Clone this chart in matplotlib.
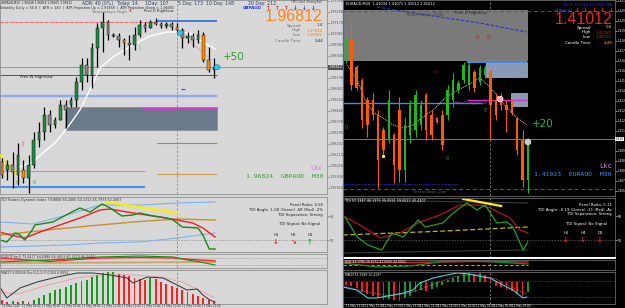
import numpy as np
import matplotlib
matplotlib.use("Agg")
import matplotlib.pyplot as plt
from matplotlib.patches import Rectangle, Ellipse
from matplotlib.transforms import blended_transform_factory

W, H = 625, 308
BIG = ["Liberation Sans Narrow", "Liberation Sans", "DejaVu Sans"]

# ---------------- GBPAUD, M30 (left window) ----------------
gbp_open = [1.96054, 1.95990, 1.96030, 1.95950, 1.95990, 1.95926, 1.96030, 1.96230, 1.96294, 1.96430,
            1.96350, 1.96390, 1.96510, 1.96510, 1.96550, 1.96694, 1.96830, 1.96750, 1.96966, 1.97126,
            1.97174, 1.97070, 1.97062, 1.97030, 1.97006, 1.96990, 1.97070, 1.97150, 1.97126, 1.97174,
            1.97158, 1.97142, 1.97158, 1.97134, 1.97110, 1.97046, 1.97062, 1.97030, 1.97070, 1.96870,
            1.96790]
gbp_close = [1.95950, 1.96030, 1.95974, 1.96110, 1.95926, 1.96030, 1.96230, 1.96294, 1.96430, 1.96350,
             1.96390, 1.96510, 1.96470, 1.96550, 1.96694, 1.96830, 1.96750, 1.96966, 1.97126, 1.97174,
             1.97070, 1.97062, 1.97030, 1.97006, 1.96990, 1.97070, 1.97150, 1.97126, 1.97174, 1.97158,
             1.97142, 1.97158, 1.97134, 1.97110, 1.97046, 1.97062, 1.97030, 1.97070, 1.96870, 1.96790,
             1.96812]
gbp_high = [1.96086, 1.96070, 1.96134, 1.96206, 1.96070, 1.96110, 1.96294, 1.96374, 1.96494, 1.96470,
            1.96414, 1.96550, 1.96550, 1.96574, 1.96734, 1.96886, 1.96886, 1.97006, 1.97166, 1.97254,
            1.97190, 1.97086, 1.97086, 1.97046, 1.97070, 1.97134, 1.97190, 1.97174, 1.97190, 1.97206,
            1.97174, 1.97174, 1.97174, 1.97166, 1.97126, 1.97094, 1.97086, 1.97110, 1.97094, 1.96974,
            1.96886]
gbp_low = [1.95926, 1.95910, 1.95846, 1.95870, 1.95886, 1.95806, 1.96006, 1.96174, 1.96230, 1.96294,
           1.96326, 1.96390, 1.96326, 1.96494, 1.96494, 1.96630, 1.96694, 1.96646, 1.96814, 1.96934,
           1.97030, 1.97054, 1.96974, 1.96910, 1.96870, 1.96950, 1.97054, 1.97094, 1.97126, 1.97150,
           1.97126, 1.97126, 1.97110, 1.97086, 1.96966, 1.97006, 1.96974, 1.97006, 1.96854, 1.96774,
           1.96726]
gbp_orange = [0, 4, 23, 33, 38, 39]

gbp_ma_x = [3.4, 5.8, 7.9, 10.0, 12.3, 14.7, 17.2, 18.5, 20.9, 24.7, 27.9, 31.1, 33.0, 35.5, 37.9, 40.2]
gbp_ma_y = [1.96014, 1.96054, 1.96134, 1.96206, 1.96326, 1.96470, 1.96686, 1.96806, 1.96894, 1.96990,
            1.97062, 1.97094, 1.97094, 1.97086, 1.97014, 1.96958]
gbp_trend_x = [-0.4, 2.8]
gbp_trend_y = [1.96110, 1.95950]
gbp_bid = 1.96812
gbp_yday_high = 1.97174
gbp_prev_w = 1.96750
gbp_blue_mid = 1.96582
gbp_zone = (1.96310, 1.96494)
gbp_prev_d = 1.96486
gbp_gray_lvl = 1.96206
gbp_tan_lvl = 1.95958
gbp_pink_lvl = 1.95982
gbp_blue_low = 1.95854

# TDI panel
gbp_tdi_x = [-0.4, 0.9, 2.5, 3.4, 4.3, 5.7, 6.2, 9.6, 12.8, 14.7, 16.6, 18.9, 20.4, 22.6, 24.7, 26.0,
             28.5, 31.1, 32.3, 34.0, 37.0, 37.9, 39.1, 40.2]
gbp_tdi_green = [50, 48.5, 55.25, 53.75, 50, 57.5, 61.25, 63.5, 70.25, 74, 71, 77, 74, 68, 68.75, 70.25,
                 68, 66.5, 65, 59.75, 59, 53.75, 43.25, 43.25]
gbp_sig_x = [-0.4, 1.5, 4.3, 7.2, 10.9, 14.7, 18.5, 20.4, 23.6, 26.0, 29.8, 33.0, 36.0, 37.9, 40.2]
gbp_tdi_red = [56, 53.75, 51.5, 56, 61.25, 66.5, 72.5, 73.25, 71, 69.5, 67.25, 65, 62.75, 59, 52.25]
gbp_mid_x = [-0.4, 12.3, 24.7, 33.0, 40.2]
gbp_tdi_mid = [53.75, 59, 63.5, 65.75, 65]
gbp_band_x = [-0.4, 5.8, 12.3, 18.5, 26.0, 33.0, 40.2]
gbp_band_up = [63.5, 62, 68.75, 76.25, 76.25, 77.75, 78.5]
gbp_band_dn = [44.75, 45.5, 46.25, 47.75, 48.5, 51.5, 55.25]
gbp_tdi_trend_x = [19.8, 33.0]
gbp_tdi_trend = [78.5, 70.25]

# QQE panel
gbp_qqe_x = [-0.4, 9.0, 18.5, 26.0, 32.3, 35.0, 37.4, 40.2]
gbp_qqe_fast = [6, 8, 11, 12, 11, 8, 6, 3]
gbp_qqe_slow = [10, 6.5, 10, 10.5, 10, 9, 8, 7]
gbp_qqe_band = [8, 8.5, 9.5, 10, 9.5, 8.5, 8, 7.5]
gbp_qqe_base = [5, 5.2, 5.4, 5.6, 5.8, 5.9, 6, 6]

# oscillator panel
gbp_osc = [4, 2, 3, 2, 3, 2, 4, 6, 9, 11, 14, 15, 17, 19, 21, 23, 24, 27, 29, 31, 32, 32, 30, 29, 28,
           26, 25, 24, 26, 25, 22, 20, 18, 16, 14, 12, 10, 8, 6, 4, 2]
gbp_osc_sig_x = [-0.4, 0.9, 3.4, 6.6, 10.4, 14.2, 17.2, 20.4, 23.6, 24.7, 27.4, 30.4, 32.3, 34.9, 36.8,
                 37.9, 39.2, 40.2]
gbp_osc_sig = [17, 6, 16, 22, 27, 31, 31, 29, 26, 21, 27, 26, 21, 14, 15, 9, 4, 2]
gbp_osc_ma_x = [-0.4, 3, 8, 14, 20, 25, 30, 34, 38, 40.2]
gbp_osc_ma = [12, 10, 18, 26, 30, 29, 27, 22, 12, 6]
gbp_times = ["11 May 2020", "11 May 03:00", "11 May 05:00", "11 May 07:00", "11 May 09:00",
             "11 May 11:00", "11 May 13:00", "11 May 15:00", "11 May 17:00", "11 May 19:00",
             "11 May 21:00"]

# ---------------- EURAUD, M30 (right window) ----------------
eur_open = [1.41644, 1.41804, 1.41588, 1.41484, 1.41324, 1.41324, 1.41204, 1.41084, 1.41004, 1.41044,
            1.41244, 1.40764, 1.41044, 1.41084, 1.41124, 1.41364, 1.41204, 1.41180, 1.41204, 1.41204,
            1.41324, 1.41404, 1.41484, 1.41444, 1.41548, 1.41468, 1.41524, 1.41548, 1.41324, 1.41348,
            1.41284, 1.41284, 1.41180, 1.41004, 1.40684]
eur_close = [1.41804, 1.41444, 1.41420, 1.41164, 1.41124, 1.41204, 1.40844, 1.40924, 1.41324, 1.40804,
             1.40764, 1.41124, 1.41284, 1.41364, 1.41284, 1.41084, 1.41044, 1.41148, 1.40964, 1.41404,
             1.41484, 1.41460, 1.41604, 1.41604, 1.41420, 1.41580, 1.41580, 1.41284, 1.41204, 1.41284,
             1.41244, 1.41228, 1.40924, 1.40684, 1.41012]
eur_high = [1.41828, 1.41948, 1.41604, 1.41500, 1.41348, 1.41380, 1.41244, 1.41108, 1.41404, 1.41060,
            1.41348, 1.41188, 1.41324, 1.41404, 1.41324, 1.41380, 1.41244, 1.41188, 1.41244, 1.41444,
            1.41540, 1.41484, 1.41628, 1.41628, 1.41564, 1.41604, 1.41604, 1.41564, 1.41380, 1.41380,
            1.41324, 1.41324, 1.41188, 1.41084, 1.41020]
eur_low = [1.41620, 1.41404, 1.41404, 1.41100, 1.41028, 1.41164, 1.40620, 1.40868, 1.40980, 1.40660,
           1.40668, 1.40668, 1.40980, 1.41028, 1.41084, 1.41004, 1.41004, 1.41140, 1.40924, 1.41164,
           1.41268, 1.41380, 1.41460, 1.41404, 1.41388, 1.41444, 1.41500, 1.41004, 1.41164, 1.41244,
           1.41068, 1.41204, 1.40884, 1.40628, 1.40580]

eur_ma_x = [0.2, 2.1, 3.6, 5.0, 6.9, 8.8, 10.7, 12.5, 14.4, 16.3, 18.5, 20.9, 22.8, 25.0, 26.5, 28.2,
            30.1, 32.0, 33.8]
eur_ma_y = [1.41604, 1.41484, 1.41324, 1.41228, 1.41180, 1.41124, 1.41100, 1.41124, 1.41188, 1.41244,
            1.41340, 1.41404, 1.41444, 1.41500, 1.41444, 1.41364, 1.41260, 1.41180, 1.41124]
eur_ma2_x = [5.8, 15.0, 25.0, 33.8]
eur_ma2_y = [1.42068, 1.42004, 1.41940, 1.41868]
eur_bid = 1.41012
eur_top_dash = 1.42036
eur_zone = (1.41644, 1.42044)
eur_resist = 1.41628
eur_box1 = (1.41508, 1.41628)
eur_box2 = (1.41276, 1.41380)
eur_blue_lvl = 1.41300
eur_prev_d = 1.41324
eur_dot_low = 1.40652
eur_yday_low = 1.40612

eur_tdi_x = [-0.2, 2.1, 4.1, 6.7, 8.6, 10.7, 13.5, 14.8, 18.1, 20.0, 22.6, 24.5, 26.0, 28.2, 30.1,
             31.2, 33.1, 34.0]
eur_tdi_green = [67.25, 52.25, 46.25, 42.5, 55.25, 52.25, 65, 59.75, 62.75, 70.25, 77.75, 72.5, 76.25,
                 62.75, 63.5, 59.75, 42.5, 48.5]
eur_sig_x = [-0.2, 2.6, 6.4, 10.1, 13.8, 17.6, 21.3, 25.0, 26.9, 30.7, 32.5, 34.0]
eur_tdi_red = [67.25, 61.25, 51.5, 55.25, 63.5, 68.75, 76.25, 76.25, 74, 66.5, 57.5, 55.25]
eur_mid_x = [-0.6, 17.0, 34.0]
eur_tdi_mid = [53.75, 56.5, 59.75]
eur_band_up = [80, 79, 77.75]
eur_band_dn = [40.25, 41.5, 42.5]
eur_tdi_trend_x = [21.9, 29.0]
eur_tdi_trend = [80.75, 75.5]

eur_qqe_x = [-0.6, 6, 12, 18, 24, 28, 34]
eur_qqe_fast = [7, 3, 4, 8.5, 9, 8, 6]
eur_qqe_slow = [8, 7.5, 7.5, 8, 8.5, 8.5, 8]
eur_qqe_base = [5, 5, 5, 5, 5, 5, 5]

eur_osc = [-3, -4, -6, -10, -12, -14, -16, -18, -17, -18, -19, -16, -14, -10, -8, -9, -7, -5, -3, 2,
           4, 6, 8, 9, 8, 9, 7, 5, -4, -5, -7, -9, -12, -14, -10]
eur_osc_line_x = [-0.6, 2.0, 4.1, 5.8, 8.8, 10.7, 12.5, 13.8, 16.3, 18.9, 20.7, 23.0, 25.6, 26.9, 29.3,
                  31.2, 33.1, 33.8]
eur_osc_line = [-5, -8, -16, -16, -13, -11, -8, -1, 4, 7, 9, 8, 5, 4, -3, -8, -16, -15]
eur_osc_ma_x = [-0.6, 4, 8, 12, 16, 20, 24, 28, 32, 33.8]
eur_osc_ma = [-4, -10, -14, -11, -3, 5, 8, 3, -8, -12]
eur_times = ["11 May 13:00", "11 May 15:00", "11 May 17:00", "11 May 19:00", "11 May 21:00",
             "11 May 23:00", "12 May 01:00", "12 May 03:00", "12 May 05:00", "12 May 07:00"]

fig = plt.figure(figsize=(W / 100, H / 100), dpi=100)
fig.patch.set_facecolor("#d6d6d6")


def pane(x0, y0, w, h, bg, edge):
    ax = fig.add_axes([x0 / W, 1 - (y0 + h) / H, w / W, h / H])
    ax.set_facecolor(bg)
    ax.set_xticks([])
    ax.set_yticks([])
    for s in ax.spines.values():
        s.set_color(edge)
        s.set_linewidth(0.6)
    return ax


def ptxt(x, y, s, size=3.0, color="black", ha="left", **kw):
    fig.text(x / W, 1 - y / H, s, fontsize=size, color=color, ha=ha, va="center", **kw)


def right_axis(ax, ticks, fmt, color, size=2.4):
    ax.yaxis.tick_right()
    ax.set_yticks(ticks)
    ax.set_yticklabels([fmt % t for t in ticks])
    ax.tick_params(axis="y", labelsize=size, length=1.2, width=0.4, pad=0.6, colors=color)


# black background of the right window
bgr = fig.add_axes([343 / W, 0, 282 / W, 1])
bgr.set_facecolor("black")
bgr.set_xticks([])
bgr.set_yticks([])
fig.add_artist(plt.Line2D([342.5 / W] * 2, [0, 1], color="#3a66d6", lw=0.8))

# ---------------- left window ----------------
gx = np.arange(len(gbp_open))
gxl = (-0.38, 61.32)
LM = pane(0, 0, 327, 194, "#d8d8d8", "#909090")
L1 = pane(0, 197, 327, 55, "#d8d8d8", "#909090")
L2 = pane(0, 254, 327, 14, "#d8d8d8", "#909090")
L3 = pane(0, 270, 327, 34, "#d8d8d8", "#909090")
for ax in (LM, L1, L2, L3):
    ax.set_xlim(*gxl)
    ax.axvline(33, color="#8a8a8a", lw=0.6, ls=(0, (3, 2)), zorder=1)

LM.set_ylim(1.9735 - 0.00008 * 194, 1.9735)
right_axis(LM, [t for t in np.arange(1.95850, 1.97350, 0.00088) if abs(t - gbp_bid) > 0.0005],
           "%.5f", "#555555")

LM.add_patch(Rectangle((11.9, gbp_zone[0]), 40.6 - 11.9, gbp_zone[1] - gbp_zone[0],
                       fc="#6b7a8a", ec="#8a8a8a", lw=0.5, zorder=1))
LM.hlines(gbp_yday_high, gxl[0], 29.2, color="#ff4040", lw=0.6, ls=(0, (3, 1, 1, 1)), zorder=2)
LM.hlines(gbp_yday_high + 0.00008, 29.2, 40.6, color="#3a7de0", lw=1.4, zorder=2)
LM.axhline(gbp_bid, color="#8c8c8c", lw=0.6, zorder=1)
LM.hlines(gbp_prev_w, gxl[0], 40.6, color="#404040", lw=0.6, zorder=2)
LM.hlines(gbp_blue_mid, gxl[0], 40.6, color="#8eaaf0", lw=1.6, zorder=2)
LM.hlines(gbp_prev_d, 26.4, 40.6, color="#d040d0", lw=1.0, zorder=2)
LM.hlines(gbp_gray_lvl, 29.2, 40.6, color="#8c8c8c", lw=0.8, zorder=2)
LM.hlines(gbp_tan_lvl, 29.2, 40.6, color="#c8a050", lw=0.8, zorder=2)
LM.hlines(gbp_pink_lvl, gxl[0], 27, color="#d070d0", lw=0.6, zorder=2)
LM.hlines(gbp_blue_low, gxl[0], 27, color="#4a90e2", lw=1.5, zorder=2)
LM.plot(gbp_trend_x, gbp_trend_y, color="#ffe600", lw=1.2, zorder=4)
LM.plot(gbp_ma_x, gbp_ma_y, color="white", lw=1.0, zorder=4)

g_up = np.array(gbp_close) >= np.array(gbp_open)
g_cols = ["#1f8f3f" if u else "#8a8a8a" for u in g_up]
for i in gbp_orange:
    g_cols[i] = "#ff8c00"
g_bot = np.minimum(gbp_open, gbp_close)
g_hgt = np.maximum(np.abs(np.array(gbp_close) - np.array(gbp_open)), 0.00004)
LM.vlines(gx, gbp_low, gbp_high, color="black", lw=0.9, zorder=5)
LM.bar(gx, g_hgt, bottom=g_bot, width=0.5, color=g_cols, edgecolor="black", lw=0.3, zorder=6)

LM.plot([33.6, 39.6], [1.97086, 1.96870], color="#e08080", lw=0.5, ls=(0, (2, 1)), zorder=4)
for cx, cy in [(33.6, 1.97086), (40.6, gbp_bid)]:
    LM.add_patch(Ellipse((cx, cy), 1.1, 0.00042, fc="#40c0e0", ec="#1080b0", lw=0.4, zorder=7))
LM.hlines(1.96638, 33.7, 34.6, color="#3050d0", lw=0.8, zorder=4)
LM.text(41.7, 1.96894, "+50", fontsize=7.5, color="#2ea02e", va="center", zorder=8)
LM.text(3.4, 1.96734, "Prev W High/Low", fontsize=2.8, color="#202020", va="center")
LM.text(17.0, 1.97250, "Yesterdays High", fontsize=3.2, color="#707070", va="center")
LM.text(23.9, 1.97262, "▲", fontsize=2.6, color="#e04040", va="center")
LM.text(26.8, 1.97262, "Prev D High/Low", fontsize=2.6, color="#202020", va="center")
LM.text(26.4, 1.96470, "Prev D High/Low", fontsize=2.8, color="#d040d0", va="center")
LM.text(26.0, 1.96966, "⇧", fontsize=4, color="#70c070", ha="center", va="center")
LM.text(3.8, 1.96190, "⇧", fontsize=4, color="#e05050", ha="center", va="center")
LM.text(2.8, 1.95894, "0", fontsize=3.5, color="#40a040", ha="center", va="center")
LM.text(6.0, 1.95894, "0", fontsize=3.5, color="#40a040", ha="center", va="center")
bt = blended_transform_factory(LM.transAxes, LM.transData)
LM.text(1.004, gbp_bid, "1.96812", transform=bt, fontsize=2.4, color="white", va="center",
        bbox=dict(fc="#505050", ec="none", pad=0.3), zorder=9, clip_on=False)

# TDI panel
L1.set_ylim(41, 82.25)
right_axis(L1, [50, 68], "%d", "#555555")
L1.axhline(50, color="#8a8a8a", lw=0.5, ls=(0, (2, 2)))
L1.plot(gbp_band_x, gbp_band_up, color="#7fb2ee", lw=0.8)
L1.plot(gbp_band_x, gbp_band_dn, color="#7fb2ee", lw=0.8)
L1.plot(gbp_mid_x, gbp_tdi_mid, color="#c8902a", lw=1.0)
L1.plot(gbp_sig_x, gbp_tdi_red, color="#ee2020", lw=1.0)
L1.plot(gbp_tdi_x, gbp_tdi_green, color="#168a16", lw=1.0)
L1.plot(gbp_tdi_trend_x, gbp_tdi_trend, color="#ffee00", lw=1.6)

# QQE panel
L2.set_ylim(0, 14)
L2.axhline(10, color="#8a8a8a", lw=0.4, ls=(0, (2, 2)))
L2.axhline(3, color="#8a8a8a", lw=0.4, ls=(0, (2, 2)))
L2.plot(gbp_qqe_x, gbp_qqe_base, color="#c8a86a", lw=1.4)
L2.plot(gbp_qqe_x, gbp_qqe_band, color="#f0a0a0", lw=1.4)
L2.plot(gbp_qqe_x, gbp_qqe_slow, color="#e82020", lw=0.8)
L2.plot(gbp_qqe_x, gbp_qqe_fast, color="#168a16", lw=0.8)

# oscillator panel
L3.set_ylim(0, 34)
osc_g = np.array(gbp_osc)
o_cols = ["#1a9a1a" if i > 0 and osc_g[i] >= osc_g[i - 1] else "#ff2020" for i in range(len(osc_g))]
L3.bar(gx, osc_g, width=0.35, color=o_cols)
L3.plot(gbp_osc_ma_x, gbp_osc_ma, color="#f08080", lw=0.6, ls=(0, (2, 1)))
L3.plot(gbp_osc_sig_x, gbp_osc_sig, color="#303030", lw=0.7)

# ---------------- right window ----------------
ex = np.arange(len(eur_open))
exl = (-0.56, 50.28)
RM = pane(343, 0, 272, 196, "black", "#6a6a6a")
R1 = pane(343, 198, 272, 60, "black", "#6a6a6a")
R2 = pane(343, 260, 272, 10, "black", "#6a6a6a")
R3 = pane(343, 272, 272, 32, "black", "#6a6a6a")
R1.spines["bottom"].set_color("white")
R1.spines["bottom"].set_linewidth(1.4)
for ax in (RM, R1, R2, R3):
    ax.set_xlim(*exl)
    ax.axvline(26.9, color="#7a7a7a", lw=0.6, ls=(0, (3, 2)), zorder=1)

RM.set_ylim(1.42124 - 0.00008 * 196, 1.42124)
right_axis(RM, [t for t in np.arange(1.40600, 1.42124, 0.00080) if abs(t - eur_bid) > 0.0004],
           "%.3f", "white", 2.0)

RM.add_patch(Rectangle((exl[0], eur_zone[0]), 33.8 - exl[0], eur_zone[1] - eur_zone[0],
                       fc="#7a7a7a", ec="#9a9a9a", lw=0.5, zorder=1))
RM.axhline(eur_top_dash, color="#5a5a5a", lw=0.7, ls=(0, (4, 3)), zorder=2)
RM.plot(eur_ma2_x, eur_ma2_y, color="#2535c8", lw=0.8, ls=(0, (3, 1.5)), zorder=2)
RM.add_patch(Rectangle((26.2, eur_box1[0]), 33.8 - 26.2, eur_box1[1] - eur_box1[0],
                       fc="#8a9ab4", ec="#b0b8c8", lw=0.5, zorder=1))
RM.add_patch(Rectangle((30.8, eur_box2[0]), 33.8 - 30.8, eur_box2[1] - eur_box2[0],
                       fc="#8a9ab4", ec="#b0b8c8", lw=0.5, zorder=1))
RM.hlines(eur_resist, 22.6, 33.8, color="#3a8ef0", lw=1.4, zorder=2)
RM.hlines(eur_blue_lvl, exl[0], 25.4, color="#3a8ef0", lw=1.0, zorder=2)
RM.hlines(eur_prev_d, 22.6, 33.8, color="#d030d0", lw=1.0, zorder=2)
RM.axhline(eur_bid, color="#8c8c8c", lw=0.6, zorder=2)
RM.hlines(eur_dot_low, exl[0], 20.9, color="#2030b0", lw=0.8, ls=(0, (1, 1)), zorder=2)
RM.axhline(eur_yday_low, color="#5a5a5a", lw=0.7, ls=(0, (4, 3)), zorder=2)
RM.plot(eur_ma_x, eur_ma_y, color="#d0d0d0", lw=0.7, ls=(0, (1, 1)), zorder=4)

e_up = np.array(eur_close) >= np.array(eur_open)
e_cols = ["#22b422" if u else "#ff5a00" for u in e_up]
e_bot = np.minimum(eur_open, eur_close)
e_hgt = np.maximum(np.abs(np.array(eur_close) - np.array(eur_open)), 0.00004)
RM.vlines(ex, eur_low, eur_high, color=e_cols, lw=0.8, zorder=5)
RM.bar(ex, e_hgt, bottom=e_bot, width=0.45, color=e_cols, lw=0, zorder=6)

RM.add_patch(Ellipse((28.8, 1.41332), 1.1, 0.00045, fc="#ff9ad0", ec="white", lw=0.5, zorder=7))
RM.add_patch(Ellipse((34.0, 1.40988), 1.1, 0.00045, fc="#c8c8c8", ec="#e0e0e0", lw=0.5, zorder=7))
RM.plot([7.0], [1.40876], "s", ms=1.2, color="#ffee00", zorder=7)
RM.text(34.8, 1.41132, "+20", fontsize=7.5, color="#2eb82e", va="center", zorder=8)
RM.text(11.0, 1.42012, "Yesterdays High", fontsize=3.5, color="#4a4a4a", va="center", zorder=3)
RM.text(20.4, 1.42020, "Prev D High/Low", fontsize=2.8, color="#202020", va="center", zorder=3)
RM.text(20.4, 1.41300, "Prev D High/Low", fontsize=2.8, color="#d030d0", va="center", zorder=3)
RM.text(12.5, 1.40588, "Yesterdays Low", fontsize=3.2, color="#5a5a5a", va="center", zorder=3)
for tx, ty, s, tc in [(24.6, 1.41828, "8", "#c02020"), (26.6, 1.41828, "6", "#c02020"),
                      (16.8, 1.41548, "0", "#a01010"), (0.0, 1.41108, "0", "#20a020"),
                      (18.9, 1.40860, "0", "#20a020"), (26.0, 1.41244, "0", "#20a020")]:
    RM.text(tx, ty, s, fontsize=3.5, color=tc, ha="center", va="center", zorder=8)
bt = blended_transform_factory(RM.transAxes, RM.transData)
RM.text(1.002, eur_bid, "1.410", transform=bt, fontsize=2.0, color="black", va="center",
        bbox=dict(fc="white", ec="none", pad=0.3), zorder=9, clip_on=False)

# TDI panel
R1.set_ylim(36.5, 81.5)
right_axis(R1, [50, 68], "%d", "white", 2.2)
R1.axhline(50, color="#6a6a6a", lw=0.5, ls=(0, (2, 2)))
R1.plot(eur_mid_x, eur_band_up, color="#3a3a3a", lw=0.8)
R1.plot(eur_mid_x, eur_band_dn, color="#3a3a3a", lw=0.8)
R1.plot(eur_mid_x, eur_tdi_mid, color="#c8b400", lw=0.9, ls=(0, (4, 2)))
R1.plot(eur_sig_x, eur_tdi_red, color="#b01818", lw=0.9)
R1.plot(eur_tdi_x, eur_tdi_green, color="#22a022", lw=0.9)
R1.plot(eur_tdi_trend_x, eur_tdi_trend, color="#ffee00", lw=1.6)

# QQE panel
R2.set_ylim(0, 10)
R2.plot(eur_qqe_x, eur_qqe_base, color="#c8a020", lw=0.8, ls=(0, (3, 2)))
R2.plot(eur_qqe_x, eur_qqe_slow, color="#e02020", lw=1.0)
R2.plot(eur_qqe_x, eur_qqe_fast, color="#1a8a1a", lw=1.0)

# oscillator panel
R3.set_ylim(-22, 10)
R3.axhline(1, color="#6a6a6a", lw=0.4, ls=(0, (2, 2)))
R3.axhline(-15, color="#6a6a6a", lw=0.4, ls=(0, (2, 2)))
osc_e = np.array(eur_osc)
oe_cols = ["#1a9a1a" if i > 0 and osc_e[i] >= osc_e[i - 1] else "#ff1a1a" for i in range(len(osc_e))]
R3.bar(ex, osc_e, width=0.35, color=oe_cols)
R3.plot(eur_osc_ma_x, eur_osc_ma, color="#d07090", lw=0.6, ls=(0, (1, 1)))
R3.plot(eur_osc_line_x, eur_osc_line, color="#40d8e0", lw=0.8)

# ---------------- texts: left window ----------------
ptxt(1, 2.5, "GBPAUD,M30  1.96848 1.96856 1.96805 1.96812", 2.1, "#202020")
ptxt(0, 7.5, "Volatility Daily = 55.8  |  ATR = 140  |  ATR Projection Up = 1.97458  |  ATR Projection Down = 1.96091",
     2.4, "#303030")
for x, s in [(82, "ADR: 40 (0%)"), (116, "Today: 14"), (145, "1Day: 107"), (178, "5 Day: 173"),
             (206, "10 Day: 148"), (248, "20 Day: 212")]:
    ptxt(x, 3.5, s, 3.3, "#2a3a6a")
ptxt(322, 1.8, "TMV Cond  Strong Bull", 2.0, "#404040", ha="right")
ptxt(243, 8, "GBPAUD", 3.0, "#1a3ad0", weight="bold")
for i, c in enumerate(["#e02020", "#e02020", "#e02020", "#1a3ad0", "#1a3ad0", "#1a3ad0"]):
    ptxt(266 + 9 * i, 8, "↑" if i < 3 else "↓", 4.0, c, weight="bold")
ptxt(323, 16.5, "1.96812", 11.5, "#ff8418", ha="right", family=BIG)
for y, lab, val, vc in [(25.5, "Spread", "1.4", "#303030"), (30.5, "High", "1.97540", "#ff8418"),
                        (35.5, "Low", "1.96681", "#ff8418"), (41, "Candle Time", "2:44", "#202020")]:
    ptxt(301, y, lab, 3.0, "#707070", ha="right")
    ptxt(323, y, val, 2.8, vc, ha="right")
ptxt(323, 168, "Lkc", 5.0, "#e078e0", ha="right", family="DejaVu Sans Mono")
ptxt(323, 177, "1.96824  GBPAUD  M30", 4.6, "#30a030", ha="right", family="DejaVu Sans Mono")

ptxt(1, 200.5, "TDI Traders Dynamic Index 79.8806 60.2485 50.1313 45.7973 52.2667", 2.4, "#303030")
ptxt(323, 205, "Panel Ratio: 4.56", 2.8, "#202020", ha="right")
ptxt(323, 210, "TDI Angle: 1.08 (Green) ,68 (Red) ,2%", 2.8, "#202020", ha="right")
ptxt(323, 215, "TDI Separation: Strong", 2.8, "#202020", ha="right")
ptxt(300, 224, "TDI Signal: No Signal", 2.8, "#202020", ha="center")
for x, s, a, c in [(276, "H1", "↓", "#e02020"), (293, "H4", "↘", "#e02020"), (310, "D1", "↑", "#20a020")]:
    ptxt(x, 235, s, 2.8, "#202020", ha="center")
    ptxt(x, 242, a, 5.0, c, ha="center", weight="bold")
ptxt(1, 256.5, "QQE(TF:[m]) 73.4477 64.0988 66.4653 60.3274 66.2640", 2.3, "#303030")
ptxt(1, 273, "MACD 0.00048 Osc(3,1,1) 0.0044 0.0054", 2.3, "#303030")
for i, s in enumerate(gbp_times):
    ptxt(2 + 20 * i, 306, s, 2.0, "#303030")

# ---------------- texts: right window ----------------
ptxt(346, 4, "EURAUD,M30  1.41034 1.41071 1.41012 1.41012", 2.6, "white")
ptxt(612, 4.5, "M15 H1 H4 D1 W1 MN", 3.2, "#2a2aff", ha="right")
ptxt(555, 10.5, "EURAUD", 3.2, "#2a4aff")
for i in range(5):
    ptxt(577 + 8.5 * i, 10.5, "↓", 4.5, "#ff2020", ha="center", weight="bold")
ptxt(612, 19.5, "1.41012", 11.5, "#e8282a", ha="right", family=BIG)
for y, lab, val, vc in [(27.5, "Spread", "0.8", "#ffd020"), (32.5, "High", "1.41281", "#e82020"),
                        (37.5, "Low", "1.40771", "#e82020"), (43, "Candle Time", "2:49", "#ffd020")]:
    ptxt(591, y, lab, 3.0, "white", ha="right")
    ptxt(612, y, val, 2.8, vc, ha="right")
ptxt(612, 166, "Lkc", 5.0, "#e078e0", ha="right", family="DejaVu Sans Mono")
ptxt(612, 174, "1.41023  EURAUD  M30", 4.6, "#3399ff", ha="right", family="DejaVu Sans Mono")

ptxt(345, 201, "TDI 57.1347 46.1375 35.0591 39.0623 40.4307", 2.4, "white")
ptxt(612, 204.5, "Panel Ratio: 5.11", 2.8, "white", ha="right")
ptxt(612, 209.5, "TDI Angle: -0.19 (Green) ,11 (Red) ,Ac", 2.8, "white", ha="right")
ptxt(612, 214.5, "TDI Separation: Strong", 2.8, "white", ha="right")
ptxt(587, 224, "TDI Signal: No Signal", 2.8, "white", ha="center")
for x, s in [(566, "H1"), (583, "H4"), (600, "D1")]:
    ptxt(x, 233, s, 2.8, "white", ha="center")
    ptxt(x, 240, "↓", 5.0, "#ff2020", ha="center", weight="bold")
ptxt(345, 261.5, "QQE 33.1795 36.6752 47.0656 44.8062", 2.2, "white")
ptxt(345, 275, "MACD 15.3589 15.4197", 2.2, "white")
for i, s in enumerate(eur_times):
    ptxt(346 + 18.5 * i, 306, s, 2.0, "white")

fig.savefig("out.png", dpi=100, facecolor=fig.get_facecolor())
